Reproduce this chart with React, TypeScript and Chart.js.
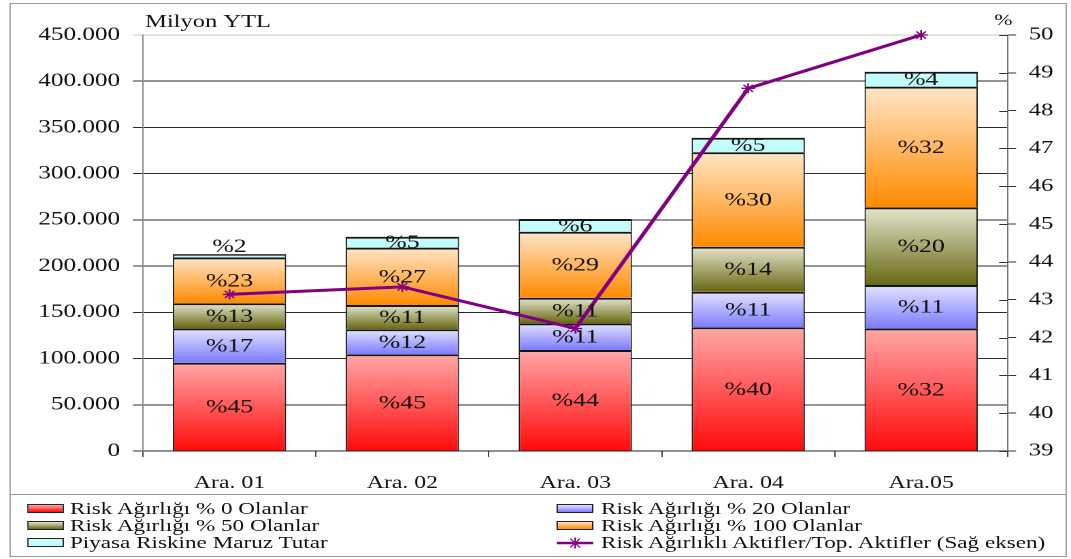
import React, { useEffect, useRef } from 'react';
import { Chart, registerables } from 'chart.js';
Chart.register(...registerables);

// ---------- data ----------
const categories = ['Ara. 01', 'Ara. 02', 'Ara. 03', 'Ara. 04', 'Ara.05'];
const seriesNames = [
  'Risk Ağırlığı % 0 Olanlar',
  'Risk Ağırlığı % 20 Olanlar',
  'Risk Ağırlığı % 50 Olanlar',
  'Risk Ağırlığı % 100 Olanlar',
  'Piyasa Riskine Maruz Tutar',
  'Risk Ağırlıklı Aktifler/Top. Aktifler (Sağ eksen)',
];
const risk0 = [95500, 104600, 109300, 133800, 132700];
const risk20 = [37200, 27100, 28800, 38500, 46900];
const risk50 = [27100, 26300, 27700, 48700, 84000];
const risk100 = [49700, 62000, 71400, 102100, 130500];
const market = [3500, 11800, 13800, 15800, 16200];
const ratio = [43.14, 43.34, 42.24, 48.59, 50.0];
const pct0 = [45, 45, 44, 40, 32];
const pct20 = [17, 12, 11, 11, 11];
const pct50 = [13, 11, 11, 14, 20];
const pct100 = [23, 27, 29, 30, 32];
const pctMarket = [2, 5, 6, 5, 4];
const leftAxisTitle = 'Milyon YTL';
const rightAxisTitle = '%';

const stacks = [risk0, risk20, risk50, risk100, market];
const pctLabels = [pct0, pct20, pct50, pct100, pctMarket];

// ---------- layout (logical coordinates, stretched horizontally) ----------
const LW = 787;
const S = 1071 / LW;
const CANVAS_H = 494;
const FONT = '"Liberation Serif", "Times New Roman", serif';

const colors = [
  { top: '#ffa8a8', bottom: '#ff0a0a' },
  { top: '#e4e4ff', bottom: '#7c7cff' },
  { top: '#e6e6cf', bottom: '#686812' },
  { top: '#ffe6c8', bottom: '#ff8a00' },
  { top: '#c8ffff', bottom: '#c0fafa' },
];
const LINE_COLOR = '#800080';

function fmt(v: number) {
  return String(Math.round(v)).replace(/\B(?=(\d{3})+(?!\d))/g, '.');
}

function gradFor(ds: number) {
  return (ctx: any) => {
    const chart = ctx.chart;
    const y = chart.scales && chart.scales.y;
    const c = colors[ds];
    if (!y || ctx.type !== 'data') return c.bottom;
    const i = ctx.dataIndex;
    let start = 0;
    for (let k = 0; k < ds; k++) start += stacks[k][i];
    const end = start + stacks[ds][i];
    const p0 = y.getPixelForValue(start);
    const p1 = y.getPixelForValue(end);
    if (!isFinite(p0) || !isFinite(p1) || Math.abs(p0 - p1) < 0.5) return c.bottom;
    const g = chart.ctx.createLinearGradient(0, p1, 0, p0);
    g.addColorStop(0, c.top);
    g.addColorStop(1, c.bottom);
    return g;
  };
}

const labelPlugin = {
  id: 'segLabels',
  afterDatasetsDraw(chart: any) {
    const ctx = chart.ctx;
    ctx.save();
    ctx.font = `19px ${FONT}`;
    ctx.fillStyle = '#111';
    ctx.textAlign = 'center';
    ctx.textBaseline = 'middle';
    for (let d = 0; d < 5; d++) {
      const meta = chart.getDatasetMeta(d);
      meta.data.forEach((el: any, j: number) => {
        const p = el.getProps(['x', 'y', 'base'], true);
        let cy = (p.y + p.base) / 2;
        if (p.base - p.y < 8) cy = p.y - 8;
        ctx.fillText('%' + pctLabels[d][j], p.x, cy + 1);
      });
    }
    ctx.restore();
  },
  afterDraw(chart: any) {
    const ctx = chart.ctx;
    const y1 = chart.scales.y1;
    const area = chart.chartArea;
    ctx.save();
    // inner half of cross ticks on the right axis
    ctx.strokeStyle = '#333';
    ctx.lineWidth = 1;
    y1.ticks.forEach((t: any) => {
      const py = Math.round(y1.getPixelForValue(t.value)) + 0.5;
      ctx.beginPath();
      ctx.moveTo(area.right - 6.25, py);
      ctx.lineTo(area.right, py);
      ctx.stroke();
    });
    ctx.fillStyle = '#111';
    ctx.textBaseline = 'alphabetic';
    ctx.font = `18px ${FONT}`;
    ctx.textAlign = 'left';
    ctx.fillText(leftAxisTitle, 106.6, 27);
    ctx.font = `16px ${FONT}`;
    ctx.textAlign = 'right';
    ctx.fillText(rightAxisTitle, 744, 25);
    ctx.restore();
  },
};

function Swatch({ idx }: { idx: number }) {
  if (idx === 5) {
    return (
      <svg width={27.2} height={12} style={{ position: 'absolute', left: 0, top: 3 }}>
        <line x1={0} y1={6} x2={27.2} y2={6} stroke={LINE_COLOR} strokeWidth={2.5} />
        <g stroke={LINE_COLOR} strokeWidth={1.2}>
          <line x1={10} y1={1.5} x2={17.2} y2={10.5} />
          <line x1={10} y1={10.5} x2={17.2} y2={1.5} />
          <line x1={13.6} y1={0.5} x2={13.6} y2={11.5} />
        </g>
      </svg>
    );
  }
  const c = colors[idx];
  return (
    <div
      style={{
        position: 'absolute',
        left: 0,
        top: 4,
        width: 27.2,
        height: 9,
        boxSizing: 'border-box',
        border: '1px solid #222',
        background: `linear-gradient(${c.top}, ${c.bottom})`,
      }}
    />
  );
}

const legendLayout = [
  { idx: 0, col: 0, row: 0 },
  { idx: 1, col: 1, row: 0 },
  { idx: 2, col: 0, row: 1 },
  { idx: 3, col: 1, row: 1 },
  { idx: 4, col: 0, row: 2 },
  { idx: 5, col: 1, row: 2 },
];

export default function App() {
  const ref = useRef<HTMLCanvasElement>(null);
  useEffect(() => {
    document.body.style.overflow = 'hidden';
    const barSets = stacks.map((vals, d) => ({
      type: 'bar' as const,
      label: seriesNames[d],
      data: vals,
      yAxisID: 'y',
      stack: 's',
      order: 1,
      backgroundColor: gradFor(d),
      borderColor: '#151515',
      borderWidth: { top: 2, left: 1, right: 1, bottom: 0 },
      borderSkipped: 'start',
      barPercentage: 0.655,
      categoryPercentage: 1,
    }));
    const chart = new Chart(ref.current!, {
      type: 'bar',
      data: {
        labels: categories,
        datasets: [
          ...barSets,
          {
            type: 'line' as const,
            label: seriesNames[5],
            data: ratio,
            yAxisID: 'y1',
            order: 0,
            borderColor: LINE_COLOR,
            backgroundColor: LINE_COLOR,
            borderWidth: 3,
            pointStyle: 'star',
            pointRadius: 5,
            pointBorderWidth: 1.3,
            pointBorderColor: LINE_COLOR,
            tension: 0,
            clip: false,
          } as any,
        ],
      },
      options: {
        animation: false,
        responsive: true,
        maintainAspectRatio: false,
        devicePixelRatio: 2,
        layout: { padding: { top: 35, left: 0, right: 0, bottom: 0 } },
        plugins: { legend: { display: false }, tooltip: { enabled: false }, title: { display: false } },
        scales: {
          x: {
            stacked: true,
            offset: true,
            grid: { drawOnChartArea: false, offset: true, tickLength: 6, color: '#444', lineWidth: 1 },
            border: { display: true, color: '#222', width: 1 },
            ticks: { color: '#111', font: { family: FONT, size: 17.5 }, padding: 16, maxRotation: 0 },
            afterFit: (s: any) => { s.height = 43; },
          },
          y: {
            stacked: true,
            position: 'left',
            min: 0,
            max: 450000,
            grid: {
              color: (c: any) => (c.tick && c.tick.value === 450000 ? '#c8c8c8' : '#2a2a2a'),
              lineWidth: 1,
              tickLength: 7.35,
              drawTicks: true,
            },
            border: { display: true, color: '#8a8a8a', width: 1 },
            ticks: {
              stepSize: 50000,
              color: '#111',
              font: { family: FONT, size: 18.5 },
              padding: 9.5,
              callback: (v: any) => fmt(Number(v)),
            },
            afterFit: (s: any) => { s.width = 105.1; },
          },
          y1: {
            position: 'right',
            min: 39,
            max: 50,
            grid: { drawOnChartArea: false, tickLength: 6.25, color: '#333', lineWidth: 1 },
            border: { display: true, color: '#777', width: 1 },
            ticks: { stepSize: 1, color: '#111', font: { family: FONT, size: 18 }, padding: 9.3 },
            afterFit: (s: any) => { s.width = LW - 740.4; },
          },
        },
      } as any,
      plugins: [labelPlugin],
    });
    return () => chart.destroy();
  }, []);

  const frameLeft = 9 / S;
  const frameW = (1067 - 9) / S;
  const rowCenters = [509, 526, 543];
  const colSwatch = [27 / S, 557 / S];
  const colText = [70 / S, 601 / S];

  return (
    <div
      style={{
        position: 'absolute',
        left: 0,
        top: 0,
        width: LW,
        height: 559,
        transform: `scaleX(${S})`,
        transformOrigin: '0 0',
        fontFamily: FONT,
        color: '#111',
      }}
    >
      <div
        style={{
          position: 'absolute',
          left: frameLeft,
          top: 3,
          width: frameW,
          height: 554,
          boxSizing: 'border-box',
          border: '1px solid #9a9a9a',
        }}
      />
      <div
        style={{
          position: 'absolute',
          left: frameLeft,
          top: 494,
          width: frameW,
          height: 0,
          borderTop: '1px solid #9a9a9a',
        }}
      />
      <div style={{ position: 'absolute', left: 0, top: 0, width: LW, height: CANVAS_H }}>
        <canvas ref={ref} />
      </div>
      {legendLayout.map((it) => (
        <div
          key={it.idx}
          style={{
            position: 'absolute',
            left: colSwatch[it.col],
            top: rowCenters[it.row] - 9,
            height: 18,
            whiteSpace: 'nowrap',
          }}
        >
          <Swatch idx={it.idx} />
          <span
            style={{
              position: 'absolute',
              left: colText[it.col] - colSwatch[it.col],
              top: 0,
              fontSize: 17,
              lineHeight: '18px',
            }}
          >
            {seriesNames[it.idx]}
          </span>
        </div>
      ))}
    </div>
  );
}
